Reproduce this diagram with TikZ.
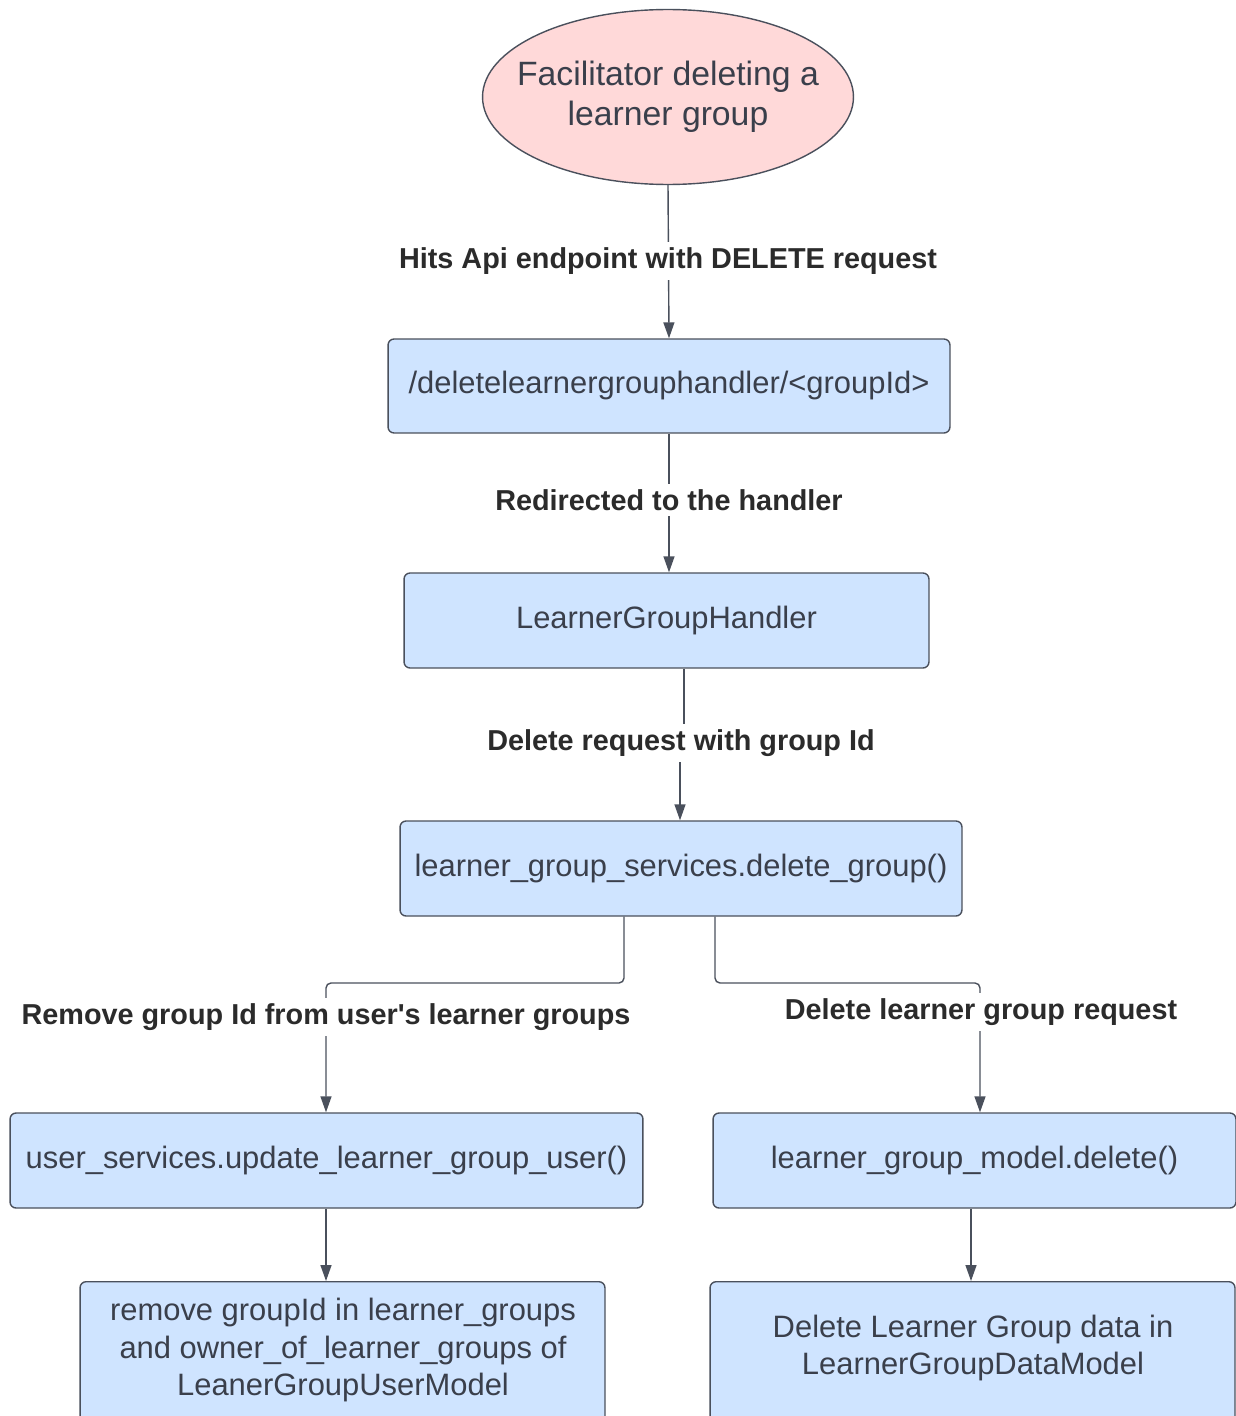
\documentclass[tikz,border=0pt]{standalone}
\usepackage{fontspec}
\setmainfont{Liberation Sans}
\usetikzlibrary{arrows.meta,shapes.geometric}

\definecolor{boxfill}{HTML}{CFE4FF}
\definecolor{ellfill}{HTML}{FFD9D9}
\definecolor{edge}{HTML}{4A505C}
\definecolor{ink}{HTML}{3A3F4B}
\definecolor{lblink}{HTML}{2B2B2B}

\begin{document}
\begin{tikzpicture}[x=0.02cm, y=-0.02cm,
  boxfont/.style={font=\fontsize{17.6}{21.4}\selectfont},
  stepbox/.style={draw=edge, fill=boxfill, line width=0.8pt, rounded corners=1.2mm,
    text=ink, boxfont, inner sep=0pt, align=center},
  boxtext/.style={text=ink, boxfont, inner sep=0pt, align=center},
  startell/.style={ellipse, draw=edge, fill=ellfill, line width=0.8pt,
    inner sep=0pt, minimum width=7.42cm, minimum height=3.5cm},
  starttext/.style={text=ink, inner sep=0pt, align=center,
    font=\fontsize{19.2}{22.7}\selectfont},
  conn/.style={draw=edge, line width=0.8pt, rounded corners=1mm,
    -{Triangle[length=3.2mm, width=2.2mm]}},
  plain/.style={draw=edge, line width=0.8pt},
  lbl/.style={fill=white, text=lblink, inner xsep=1pt, inner ysep=3pt,
    font=\bfseries\fontsize{16.4}{20}\selectfont}
]
\useasboundingbox (0,0) rectangle (1236,1416);
\clip (0,0) rectangle (1236,1416);

% start of the flow
\node[startell] (start) at (668,97) {};
\node[starttext] (startlabel) at (668,97) {Facilitator deleting a\\learner group};

% processing steps
\node[stepbox, minimum width=11.24cm, minimum height=1.88cm] (route) at (669,386)
  {/deletelearnergrouphandler/<groupId>};
\node[stepbox, minimum width=10.5cm, minimum height=1.9cm] (handler) at (666.5,620.5)
  {LearnerGroupHandler};
\node[stepbox, minimum width=11.24cm, minimum height=1.9cm] (service) at (681,868.5)
  {learner\_group\_services.delete\_group()};
\node[stepbox, minimum width=12.66cm, minimum height=1.9cm] (userserv) at (326.5,1160.5)
  {user\_services.update\_learner\_group\_user()};
\node[stepbox, minimum width=10.46cm, minimum height=1.9cm] (modeldel) at (974.5,1160.5)
  {learner\_group\_model.delete()};

% last steps, running past the lower edge
\node[stepbox, anchor=north, minimum width=10.5cm, minimum height=3.6cm] (userbox) at (342.5,1281) {};
\node[boxtext] (usertext) at (343,1350)
  {remove groupId in learner\_groups\\and owner\_of\_learner\_groups of\\LeanerGroupUserModel};
\node[stepbox, anchor=north, minimum width=10.5cm, minimum height=3.6cm] (databox) at (972.5,1281) {};
\node[boxtext] (datatext) at (973,1348)
  {Delete Learner Group data in\\LearnerGroupDataModel};

% connectors
\draw[conn] (start.south) -- (route.north);
\draw[conn] (route.south) -- (handler.north -| route.south);
\coordinate (hgap) at (684,743);
\draw[plain] (handler.south -| hgap) -- (hgap);
\draw[conn] (680,743) -- (service.north -| 680,0);
\draw[conn] (service.south -| 624,0) -- (624,983) -- (326,983) -- (userserv.north -| 326,0);
\draw[conn] (service.south -| 715,0) -- (715,983) -- (980,983) -- (modeldel.north -| 980,0);
\draw[conn] (userserv.south -| 326,0) -- (userbox.north -| 326,0);
\draw[conn] (modeldel.south -| 971,0) -- (databox.north -| 971,0);

% connector labels
\node[lbl] (l1) at (668,261) {Hits Api endpoint with DELETE request};
\node[lbl] (l2) at (669,500) {Redirected to the handler};
\node[lbl] (l3) at (681,743) {Delete request with group Id};
\node[lbl] (l4) at (326,1017) {Remove group Id from user\textquotesingle s learner groups};
\node[lbl] (l5) at (981,1012) {Delete learner group request};
\end{tikzpicture}
\end{document}
